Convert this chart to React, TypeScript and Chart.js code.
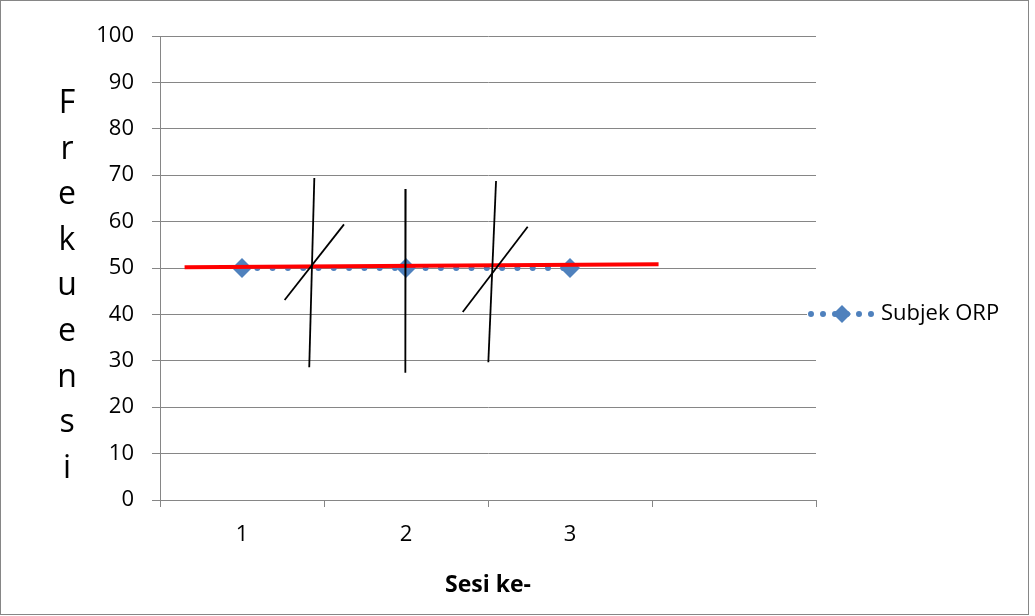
import React, { useEffect, useRef } from 'react';
import { Chart, registerables } from 'chart.js';

Chart.register(...registerables);

// ---- data ----
const categories = ['1', '2', '3', ''];
const seriesLabel = 'Subjek ORP';
const seriesValues = [50, 50, 50, null];
const yMin = 0;
const yMax = 100;
const yStep = 10;
const yTitle = 'Frekuensi';
const xTitle = 'Sesi ke-';
// red trend line (x in category units across the 4 slots, y in value units)
const trendX = [0.15, 3.04];
const trendY = [50.15, 50.8];
// hand-drawn phase-change marks: [x1, y1, x2, y2]
const markLines = [
  [0.941, 69.4, 0.91, 28.6],
  [0.76, 43.1, 1.122, 59.4],
  [1.498, 67.0, 1.496, 27.4],
  [2.049, 68.75, 2.002, 29.7],
  [1.846, 40.5, 2.242, 58.9],
];

const FONT = "'Open Sans', 'Noto Sans', sans-serif";
const BLUE = '#4F81BD';
const GRID = '#868686';

const yTitlePlugin = {
  id: 'yTitleStacked',
  afterDraw(chart: any) {
    const ctx = chart.ctx;
    ctx.save();
    ctx.fillStyle = '#000';
    ctx.font = `32px ${FONT}`;
    ctx.textAlign = 'center';
    ctx.textBaseline = 'alphabetic';
    const letters = yTitle.split('');
    letters.forEach((ch, i) => {
      ctx.fillText(ch, 67, 113 + i * 45.6);
    });
    ctx.restore();
  },
};

const legendPlugin = {
  id: 'excelLegend',
  afterDraw(chart: any) {
    const ctx = chart.ctx;
    const ds = chart.data.datasets.find((d: any) => d.label === seriesLabel);
    if (!ds) return;
    const y = 314;
    ctx.save();
    ctx.fillStyle = '#fff';
    ctx.fillRect(807, y - 14, 210, 28);
    ctx.strokeStyle = BLUE;
    ctx.lineWidth = 6;
    ctx.lineCap = 'round';
    ctx.setLineDash([0, 12]);
    ctx.beginPath();
    ctx.moveTo(811, y);
    ctx.lineTo(872, y);
    ctx.stroke();
    ctx.setLineDash([]);
    const cx = 842;
    const r = 9;
    ctx.fillStyle = BLUE;
    ctx.beginPath();
    ctx.moveTo(cx, y - r);
    ctx.lineTo(cx + r, y);
    ctx.lineTo(cx, y + r);
    ctx.lineTo(cx - r, y);
    ctx.closePath();
    ctx.fill();
    ctx.fillStyle = '#000';
    ctx.font = `22px ${FONT}`;
    ctx.textAlign = 'left';
    ctx.textBaseline = 'middle';
    ctx.fillText(ds.label, 881, y);
    ctx.restore();
  },
};

export default function App() {
  const ref = useRef<HTMLCanvasElement | null>(null);

  useEffect(() => {
    if (!ref.current) return;
    const markDatasets = markLines.map((m, i) => ({
      type: 'line' as const,
      label: `mark${i}`,
      data: [
        { x: m[0], y: m[1] },
        { x: m[2], y: m[3] },
      ],
      xAxisID: 'xl',
      borderColor: '#000',
      borderWidth: 1.8,
      pointRadius: 0,
      fill: false,
    }));
    const chart = new Chart(ref.current, {
      type: 'line',
      data: {
        labels: categories,
        datasets: [
          ...markDatasets,
          {
            label: 'trend',
            data: trendX.map((x, i) => ({ x, y: trendY[i] })),
            xAxisID: 'xl',
            borderColor: '#FF0000',
            borderWidth: 4,
            pointRadius: 0,
            fill: false,
          },
          {
            label: seriesLabel,
            data: seriesValues,
            xAxisID: 'x',
            borderColor: BLUE,
            borderWidth: 6,
            borderDash: [0, 15.3],
            borderCapStyle: 'round',
            pointStyle: 'rectRot',
            pointRadius: 10,
            pointBackgroundColor: BLUE,
            pointBorderColor: BLUE,
            pointBorderWidth: 0,
            fill: false,
          },
        ] as any,
      },
      options: {
        animation: false,
        responsive: false,
        maintainAspectRatio: false,
        layout: { padding: { left: 0, top: 36, right: 219, bottom: 0 } },
        plugins: {
          legend: { display: false },
          tooltip: { enabled: false },
        },
        scales: {
          x: {
            type: 'category',
            offset: true,
            grid: {
              offset: true,
              drawOnChartArea: false,
              drawTicks: true,
              tickLength: 7,
              color: GRID,
            },
            border: { color: GRID, width: 1 },
            ticks: {
              color: '#000',
              font: { family: FONT, size: 22 },
              padding: 15,
              maxRotation: 0,
            },
            title: {
              display: true,
              text: xTitle,
              color: '#000',
              font: { family: FONT, size: 23, weight: 'bold' },
              padding: { top: 0, bottom: 17 },
            },
            afterFit: (s: any) => {
              s.height = 116;
            },
          },
          xl: {
            type: 'linear',
            min: 0,
            max: 4,
            display: false,
          },
          y: {
            min: yMin,
            max: yMax,
            ticks: {
              stepSize: yStep,
              color: '#000',
              font: { family: FONT, size: 22 },
              padding: 18,
            },
            grid: {
              color: GRID,
              tickLength: 8,
            },
            border: { color: GRID, width: 1 },
            afterFit: (s: any) => {
              s.width = 160;
            },
          },
        },
      } as any,
      plugins: [yTitlePlugin, legendPlugin],
    });
    return () => chart.destroy();
  }, []);

  return (
    <div style={{ position: 'fixed', left: 0, top: 0, width: 1035, height: 616, background: '#fff' }}>
      <canvas ref={ref} width={1035} height={616} style={{ position: 'absolute', left: 0, top: 0, width: 1035, height: 616 }} />
      <div
        style={{
          position: 'absolute',
          left: 0,
          top: 0,
          width: 1029,
          height: 615,
          border: `1px solid ${GRID}`,
          boxSizing: 'border-box',
          pointerEvents: 'none',
        }}
      />
    </div>
  );
}
